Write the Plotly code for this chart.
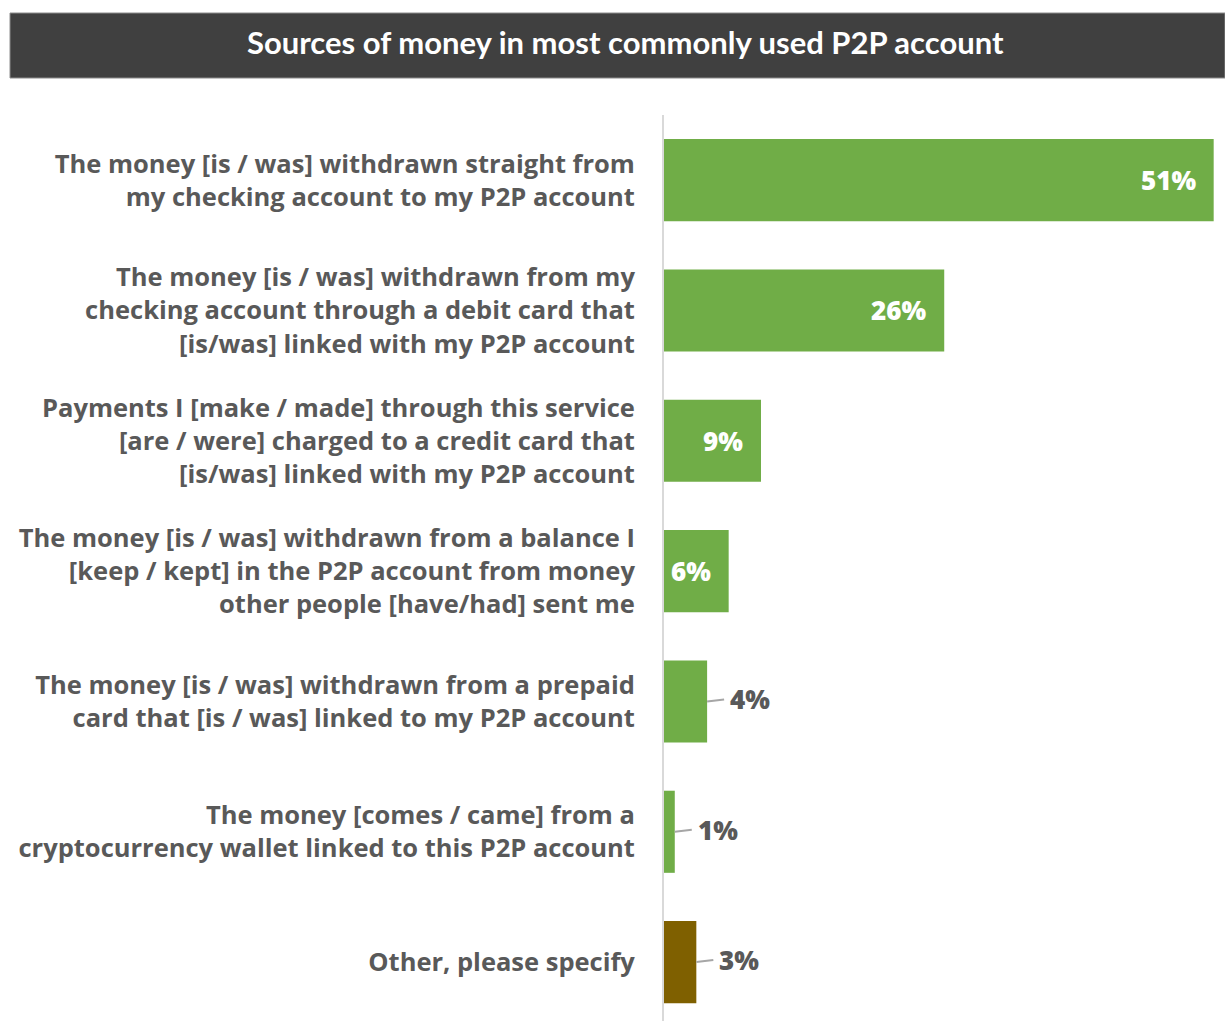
import plotly.graph_objects as go

categories = [
    "The money [is / was] withdrawn straight from<br>my checking account to my P2P account",
    "The money [is / was] withdrawn from my<br>checking account through a debit card that<br>[is/was] linked with my P2P account",
    "Payments I [make / made] through this service<br>[are / were] charged to a credit card that<br>[is/was] linked with my P2P account",
    "The money [is / was] withdrawn from a balance I<br>[keep / kept] in the P2P account from money<br>other people [have/had] sent me",
    "The money [is / was] withdrawn from a prepaid<br>card that [is / was] linked to my P2P account",
    "The money [comes / came] from a<br>cryptocurrency wallet linked to this P2P account",
    "Other, please specify",
]
values = [51, 26, 9, 6, 4, 1, 3]
label_inside = [True, True, True, True, False, False, False]
bar_colors = ["#70AD47"] * 6 + ["#7F6000"]

title_text = "Sources of money in most commonly used P2P account"

FONT = "Open Sans"
TITLE_FONT = "Lato"
TEXT_GREY = "#595959"

fig = go.Figure()
fig.add_trace(go.Bar(
    y=categories,
    x=values,
    orientation="h",
    marker=dict(color=bar_colors, line=dict(width=0)),
    hoverinfo="skip",
))

# value labels: white inside the longer bars, grey with a leader line beside the short ones
for cat, val, inside in zip(categories, values, label_inside):
    if inside:
        fig.add_annotation(
            x=val, y=cat, text=f"{val}%", showarrow=False,
            xanchor="right", xshift=-16,
            font=dict(family=FONT, size=26, color="white", weight=800),
        )
    else:
        fig.add_annotation(
            x=val, y=cat, text=f"{val}%", showarrow=True,
            arrowhead=0, arrowwidth=2, arrowcolor="#A6A6A6",
            ax=17, ay=-2, xanchor="left", borderpad=5,
            font=dict(family=FONT, size=26, color=TEXT_GREY, weight=800),
        )

# dark title banner
fig.add_shape(
    type="rect", xref="paper", yref="paper",
    x0=-654 / 561, x1=1.0, y0=1 + (115 - 78) / 906, y1=1 + (115 - 13) / 906,
    fillcolor="#404040", line=dict(color="#8C8C8C", width=1), layer="above",
)
fig.add_annotation(
    xref="paper", yref="paper", x=(625 - 664) / 561, y=1 + (115 - 42) / 906,
    text=title_text, showarrow=False, xanchor="center", yanchor="middle",
    font=dict(family=TITLE_FONT, size=31, color="white", weight="bold"),
)

fig.update_layout(
    width=1225, height=1021,
    margin=dict(l=664, r=0, t=115, b=0),
    paper_bgcolor="white", plot_bgcolor="white",
    showlegend=False, bargap=0.37,
    font=dict(family=FONT, color=TEXT_GREY),
)
fig.update_xaxes(range=[0, 52.05], visible=False, fixedrange=True)
fig.update_yaxes(
    type="category", categoryarray=categories,
    range=[6.452, -0.5],
    showline=True, linecolor="#D9D9D9", linewidth=2,
    showgrid=False, zeroline=False, ticks="",
    ticklabelstandoff=22,
    tickfont=dict(family=FONT, size=25.5, color=TEXT_GREY, weight=700),
)

fig.write_html("out.html")
